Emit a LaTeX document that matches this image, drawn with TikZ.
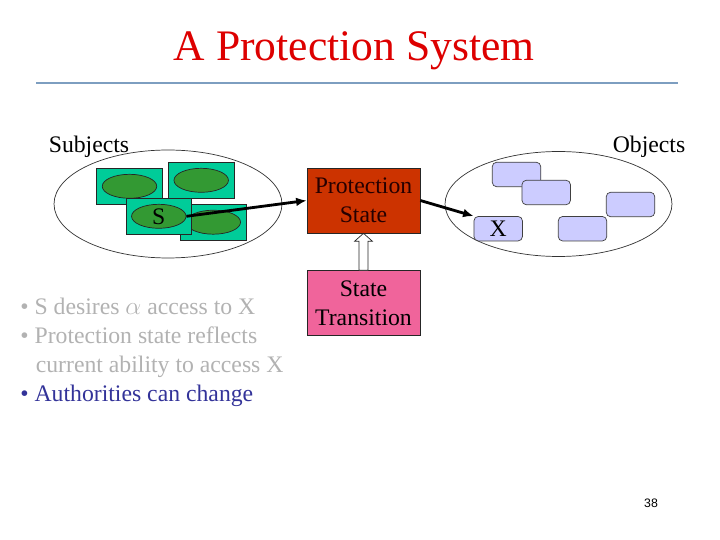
\documentclass[tikz,border=0pt]{standalone}
\usepackage{fontspec}
\setmainfont{Liberation Serif}
\newfontfamily\pagenumfont{Liberation Sans}
\usetikzlibrary{positioning, arrows.meta, calc, shapes.geometric}

\definecolor{titlered}{RGB}{221,0,0}
\definecolor{ruleblue}{RGB}{125,158,192}
\definecolor{subjteal}{RGB}{0,204,153}
\definecolor{subjgreen}{RGB}{51,153,51}
\definecolor{protred}{RGB}{204,51,0}
\definecolor{transpink}{RGB}{240,100,155}
\definecolor{objlav}{RGB}{204,204,255}
\definecolor{bulletgray}{RGB}{178,178,178}
\definecolor{authblue}{RGB}{51,51,153}

\begin{document}
\begin{tikzpicture}[
    x=0.02cm, y=-0.02cm,
    every node/.style={font=\fontsize{13.5}{16.4}\selectfont},
    subjbox/.style={draw=black!85, fill=subjteal, minimum width=1.31cm, minimum height=0.72cm, inner sep=0},
    subjell/.style={ellipse, draw=black!85, fill=subjgreen, minimum width=1.09cm, minimum height=0.48cm, inner sep=0},
    objbox/.style={draw=black!75, fill=objlav, rounded corners=2.5pt, minimum width=0.97cm, minimum height=0.49cm, inner sep=0},
    setell/.style={ellipse, draw=black!80, thin, inner sep=0},
    statebox/.style={draw=black!85, minimum width=2.26cm, minimum height=1.3cm, align=center, inner sep=0},
    arrow/.style={-{Latex[length=6pt, width=5pt]}, line width=1.6pt}
]
\useasboundingbox (0,0) rectangle (720,540);

% Title
\node[text=titlered, font=\fontsize{24.8}{28}\selectfont] (title) at (354,51) {A Protection System};
\draw[ruleblue, line width=1.3pt] (36,83) -- (678,83);

% Subjects
\node[setell, minimum width=4.56cm, minimum height=2.16cm] (subjects) at (168,204) {};
\node (subjlabel) at (89,147) {Subjects};
\node[subjbox] (sub1) at (129.5,186.3) {};
\node[subjell] (sub1e) at (sub1) {};
\node[subjbox] (sub2) at (201.2,180.3) {};
\node[subjell] (sub2e) at (sub2) {};
\node[subjbox] (sub4) at (213.3,222.2) {};
\node[subjell] (sub4e) at (sub4) {};
\node[subjbox] (sub3) at (158.8,216.3) {};
\node[subjell] (se) at (sub3) {S};

% Protection state
\node[statebox, fill=protred, text=black!85!red] (prot) at (363.5,200.5) {Protection\\State};
\node[statebox, fill=transpink, below=0.74cm of prot] (trans) {State\\Transition};

% Objects
\node[setell, minimum width=4.54cm, minimum height=2.1cm] (objects) at (558.5,204) {};
\node (objlabel) at (649,147) {Objects};
\node[objbox] (obj1) at (516.5,174.5) {};
\node[objbox] (obj2) at (546.2,192.5) {};
\node[objbox] (obj3) at (630.5,204.5) {};
\node[objbox] (obj4) at (582.5,228.7) {};
\node[objbox] (xo) at (498.2,228.7) {X};

% Bullets
\node[anchor=north west, align=left, inner sep=0, text=bulletgray] (notes) at (20,298)
  {\textbullet\ S desires $\alpha$ access to X\\
   \textbullet\ Protection state reflects\\
   \hspace*{0.31cm}current ability to access X\\
   \textcolor{authblue}{\textbullet\ Authorities can change}};

\node[font=\pagenumfont\fontsize{7}{8}\selectfont] (pagenum) at (651,503) {38};

% Arrows
\draw[arrow] (se.east) -- (prot.west);
\draw[arrow] (prot.east) -- (xo.north west);
\draw[draw=black!85, fill=white]
  ($(trans.north)+(-4.5,0)$) -- ($(prot.south)+(-4.5,8)$) -- ($(prot.south)+(-9,8)$)
  -- (prot.south) -- ($(prot.south)+(9,8)$) -- ($(prot.south)+(4.5,8)$)
  -- ($(trans.north)+(4.5,0)$) -- cycle;

\end{tikzpicture}
\end{document}
